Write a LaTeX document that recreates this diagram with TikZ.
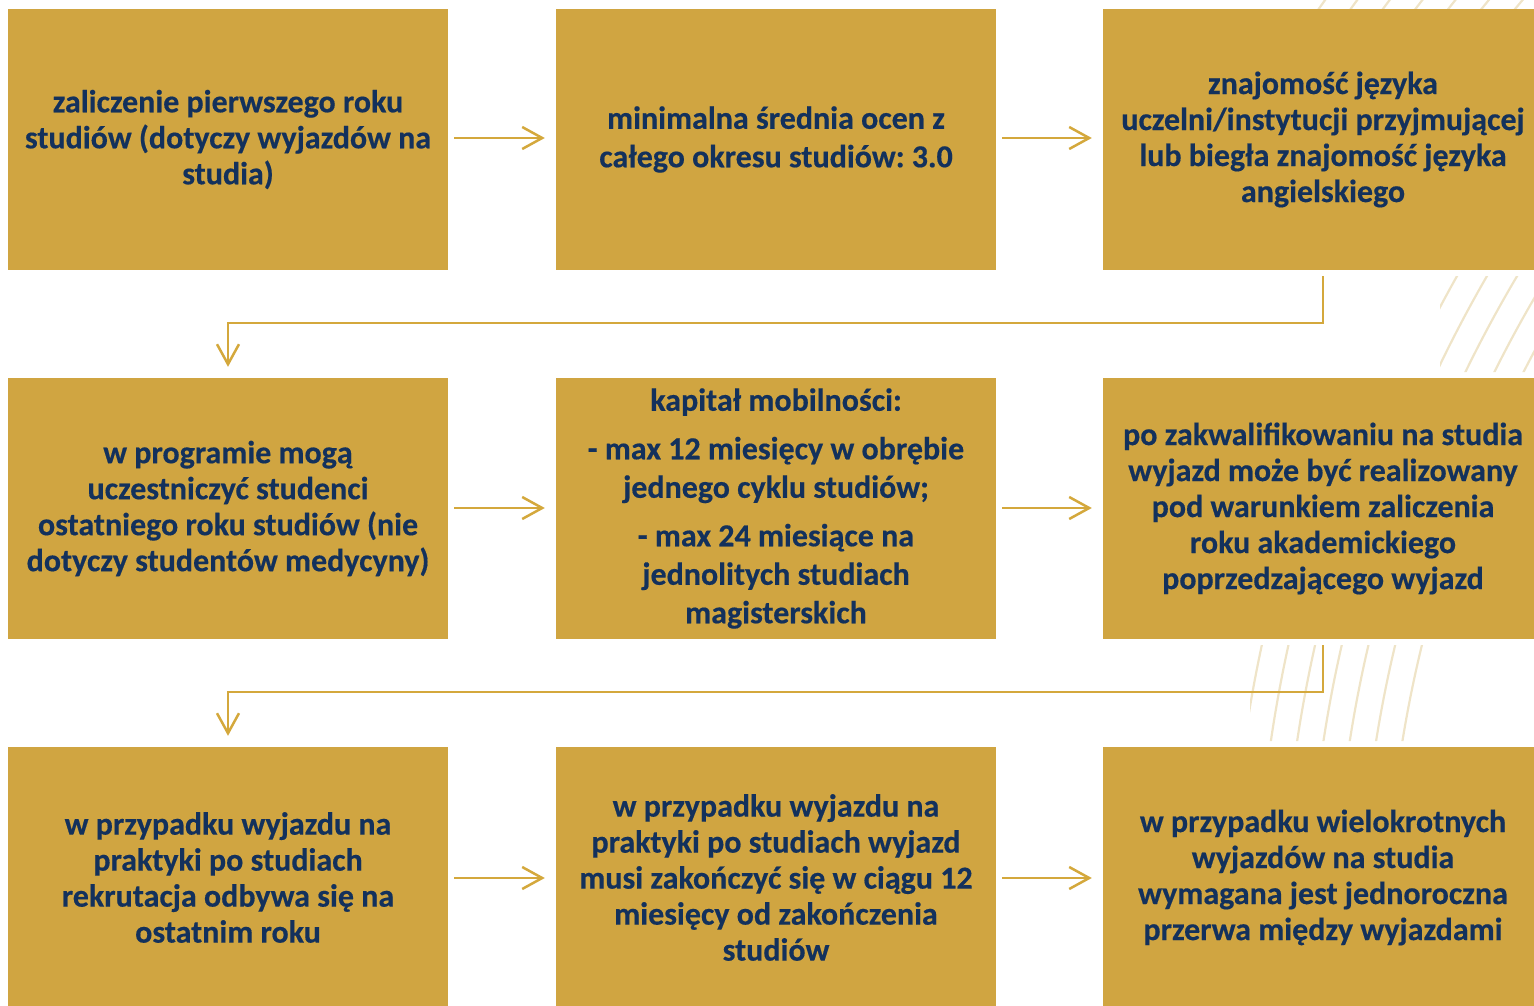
\documentclass[tikz,border=0pt]{standalone}
\usepackage{fontspec}
\setmainfont{Carlito}[BoldFeatures={FakeBold=0.4}]
\frenchspacing
\usetikzlibrary{arrows.meta}
\definecolor{boxgold}{HTML}{D0A541}
\definecolor{argold}{HTML}{D4A83C}
\definecolor{navy}{HTML}{13315C}
\definecolor{deco}{HTML}{EFE4C8}
\begin{document}
\begin{tikzpicture}[x=1pt,y=-1pt,
  box/.style={rectangle, fill=boxgold, minimum width=440pt, minimum height=261pt,
    inner sep=0pt, align=center, text=navy,
    font=\fontsize{32}{36}\selectfont\bfseries\frenchspacing},
  wide/.style={font=\fontsize{32}{38.5}\selectfont\bfseries\frenchspacing},
  flow/.style={draw=argold, line width=2.5pt, -{Straight Barb[length=20pt,width=22pt]},
    shorten <=6pt, shorten >=11pt},
  decoline/.style={draw=deco, line width=2.2pt}]
\useasboundingbox (0,0) rectangle (1534,1006);
% faint decorative arcs in the background
\begin{scope}
  \clip (1440,276) rectangle (1534,372) (1250,645) rectangle (1534,741) (1300,0) rectangle (1534,9);
  \foreach \r in {1260,1286,...,1640} {
    \draw[decoline] (2646,945) circle[radius=\r];
  }
\end{scope}
% boxes
\node[box] (b1) at (228,139.5) {zaliczenie pierwszego roku\\studiów (dotyczy wyjazdów na\\studia)};
\node[box,wide] (b2) at (776,139.5) {minimalna średnia ocen z\\całego okresu studiów: 3.0};
\node[box] (b3) at (1323,139.5) {znajomość języka\\uczelni/instytucji przyjmującej\\lub biegła znajomość języka\\angielskiego};
\node[box] (b4) at (228,508.5) {w programie mogą\\uczestniczyć studenci\\ostatniego roku studiów (nie\\dotyczy studentów medycyny)};
\node[box,wide] (b5) at (776,508.5) {kapitał mobilności:\\[10pt]- max 12 miesięcy w obrębie\\jednego cyklu studiów;\\[10pt]- max 24 miesiące na\\jednolitych studiach\\magisterskich};
\node[box] (b6) at (1323,508.5) {po zakwalifikowaniu na studia\\wyjazd może być realizowany\\pod warunkiem zaliczenia\\roku akademickiego\\poprzedzającego wyjazd};
\node[box] (b7) at (228,877.5) {w przypadku wyjazdu na\\praktyki po studiach\\rekrutacja odbywa się na\\ostatnim roku};
\node[box] (b8) at (776,877.5) {w przypadku wyjazdu na\\praktyki po studiach wyjazd\\musi zakończyć się w ciągu 12\\miesięcy od zakończenia\\studiów};
\node[box] (b9) at (1323,877.5) {w przypadku wielokrotnych\\wyjazdów na studia\\wymagana jest jednoroczna\\przerwa między wyjazdami};
% connectors
\draw[flow] (b1.east |- 0,138) -- (b2.west |- 0,138);
\draw[flow] (b2.east |- 0,138) -- (b3.west |- 0,138);
\draw[flow] (b3.south) -- ++(0,53) -| (b4.north);
\draw[flow] (b4.east |- 0,508) -- (b5.west |- 0,508);
\draw[flow] (b5.east |- 0,508) -- (b6.west |- 0,508);
\draw[flow] (b6.south) -- ++(0,53) -| (b7.north);
\draw[flow] (b7.east |- 0,878) -- (b8.west |- 0,878);
\draw[flow] (b8.east |- 0,878) -- (b9.west |- 0,878);
\end{tikzpicture}
\end{document}
